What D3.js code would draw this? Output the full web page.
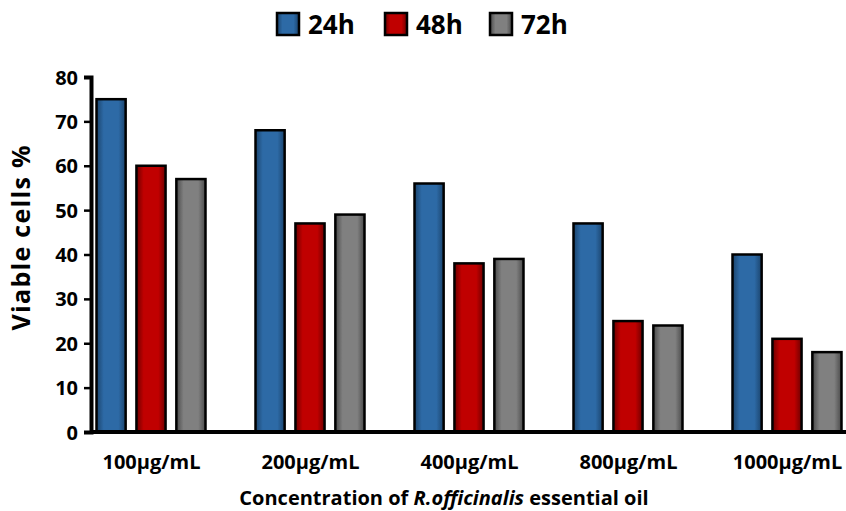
<!DOCTYPE html>
<html><head><meta charset="utf-8">
<script src="https://cdn.jsdelivr.net/npm/d3@7"></script>
<style>body{margin:0;background:#fff;} svg{display:block;} text{font-family:"Open Sans",sans-serif;font-weight:bold;fill:#000;}</style>
</head><body>
<svg id="c" width="846" height="511"></svg>
<script>
const categories = ["100µg/mL","200µg/mL","400µg/mL","800µg/mL","1000µg/mL"];
const seriesNames = ["24h","48h","72h"];
const v24 = [75,68,56,47,40];
const v48 = [60,47,38,25,21];
const v72 = [57,49,39,24,18];
const yTicks = [0,10,20,30,40,50,60,70,80];
const colors = {"24h":["#2d6aa6","#1b446d"],"48h":["#c00000","#6e0000"],"72h":["#808080","#4a4a4a"]};
const seriesVals = {"24h":v24,"48h":v48,"72h":v72};

const svg = d3.select("#c");
const defs = svg.append("defs");
seriesNames.forEach((s,i)=>{
  const g = defs.append("linearGradient").attr("id","g"+i).attr("x1","0").attr("x2","1").attr("y1","0").attr("y2","0");
  g.append("stop").attr("offset","0%").attr("stop-color",colors[s][1]);
  g.append("stop").attr("offset","25%").attr("stop-color",colors[s][0]);
  g.append("stop").attr("offset","75%").attr("stop-color",colors[s][0]);
  g.append("stop").attr("offset","100%").attr("stop-color",colors[s][1]);
});

const y = d3.scaleLinear().domain([0,80]).range([432,77]);
const x = d3.scalePoint().domain(categories).range([151,787]);
const xi = d3.scaleBand().domain(seriesNames).range([-54.5,54.5]).paddingInner(0.27).paddingOuter(0);

// bars
seriesNames.forEach((s,i)=>{
  svg.append("g").selectAll("rect").data(categories).join("rect")
    .attr("x",c=>x(c)+xi(s))
    .attr("width",xi.bandwidth())
    .attr("y",(c,j)=>y(seriesVals[s][j]))
    .attr("height",(c,j)=>y(0)-y(seriesVals[s][j]))
    .attr("fill","url(#g"+i+")")
    .attr("stroke","#000").attr("stroke-width",2.5);
});

// y axis
const ya = svg.append("g").attr("transform","translate(91,0)")
  .call(d3.axisLeft(y).tickValues(yTicks).tickSize(7).tickPadding(6));
ya.select(".domain").attr("stroke","#000").attr("stroke-width",4);
ya.selectAll(".tick line").attr("stroke","#000").attr("stroke-width",2.5);
ya.selectAll(".tick text").style("font-size","20px").style("font-family","'Open Sans',sans-serif").style("font-weight","bold").attr("dy","0.35em");

// x axis
const xa = svg.append("g").attr("transform","translate(0,432)")
  .call(d3.axisBottom(x).tickSize(0).tickPadding(23));
xa.select(".domain").attr("d","M91,0H846").attr("stroke","#000").attr("stroke-width",4);
xa.selectAll(".tick text").style("font-size","20px").style("font-family","'Open Sans',sans-serif").style("font-weight","bold");

// axis titles
svg.append("text").attr("transform","translate(30,238) rotate(-90)").attr("text-anchor","middle")
  .style("font-size","25px").attr("textLength",185).attr("lengthAdjust","spacing").text("Viable cells %");
const xt = svg.append("text").attr("x",444).attr("y",505).attr("text-anchor","middle").style("font-size","20px");
xt.append("tspan").text("Concentration of ");
xt.append("tspan").style("font-style","italic").text("R.officinalis");
xt.append("tspan").text(" essential oil");

// legend
const legX = [277,385,490];
seriesNames.forEach((s,i)=>{
  svg.append("rect").attr("x",legX[i]).attr("y",13).attr("width",22).attr("height",22)
    .attr("fill","url(#g"+i+")").attr("stroke","#000").attr("stroke-width",2.5);
  svg.append("text").attr("x",legX[i]+31).attr("y",34).style("font-size","26px").text(s);
});
</script>
</body></html>
